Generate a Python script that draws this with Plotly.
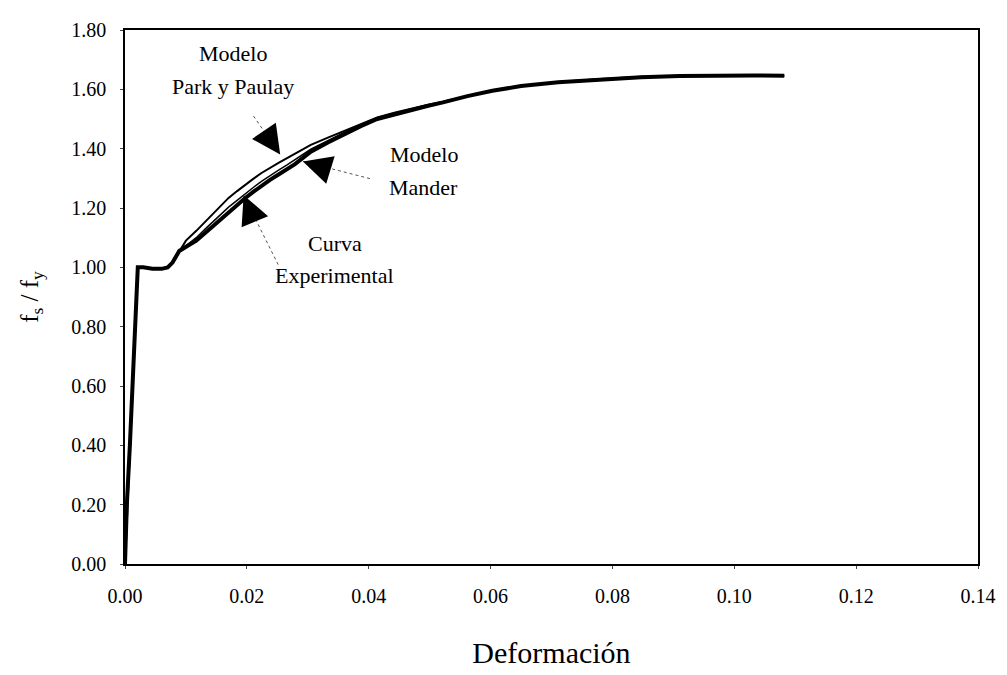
import plotly.graph_objects as go

# Experimental curve
exp_x = [0, 0.0003, 0.0008, 0.0017, 0.0021, 0.0030, 0.0045, 0.0060, 0.0070, 0.0078, 0.0089,
         0.0103, 0.0117, 0.0131, 0.0145, 0.0158, 0.0170, 0.0184, 0.0197, 0.0211, 0.0224,
         0.0238, 0.0252, 0.0266, 0.0279, 0.0292, 0.0305, 0.0333, 0.0360, 0.0387, 0.0414,
         0.0442, 0.0470, 0.0496, 0.0522, 0.0562, 0.0603, 0.0650, 0.0711, 0.0780, 0.0847,
         0.0910, 0.0977, 0.1030, 0.1082]
exp_y = [0, 0.20, 0.40, 0.80, 1.00, 1.00, 0.995, 0.995, 1.00, 1.016, 1.055,
         1.073, 1.090, 1.115, 1.140, 1.164, 1.188, 1.211, 1.233, 1.255, 1.276,
         1.295, 1.313, 1.331, 1.348, 1.369, 1.390, 1.421, 1.450, 1.476, 1.500,
         1.516, 1.531, 1.544, 1.556, 1.577, 1.595, 1.611, 1.624, 1.634, 1.641,
         1.645, 1.647, 1.647, 1.646]

# Modelo Park y Paulay
pp_x = [0, 0.0021, 0.0030, 0.0045, 0.0060, 0.0070, 0.0078, 0.0089, 0.0100, 0.0117, 0.0131,
        0.0145, 0.0158, 0.0170, 0.0184, 0.0197, 0.0211, 0.0224, 0.0238, 0.0252, 0.0266,
        0.0279, 0.0292, 0.0305, 0.0333, 0.0360, 0.0387, 0.0414, 0.0442, 0.0470, 0.0496,
        0.0522, 0.0562, 0.0603, 0.0650, 0.0711, 0.0780, 0.0847, 0.0910, 0.0977, 0.1030,
        0.1082]
pp_y = [0, 1.00, 1.00, 0.995, 0.995, 1.00, 1.016, 1.055, 1.090, 1.123, 1.152,
        1.180, 1.208, 1.234, 1.257, 1.278, 1.299, 1.318, 1.336, 1.352, 1.368,
        1.383, 1.398, 1.413, 1.437, 1.460, 1.483, 1.505, 1.521, 1.535, 1.547,
        1.558, 1.578, 1.597, 1.612, 1.625, 1.635, 1.642, 1.645, 1.647, 1.647,
        1.646]

# Modelo Mander
md_x = [0.0089, 0.0103, 0.0117, 0.0131, 0.0145, 0.0158, 0.0170, 0.0184, 0.0197, 0.0211,
        0.0224, 0.0238, 0.0252, 0.0266, 0.0279, 0.0292, 0.0305, 0.0333, 0.0360, 0.0387,
        0.0414, 0.0442, 0.0470, 0.0496, 0.0522, 0.0562, 0.0603, 0.0650, 0.0711, 0.0780,
        0.0847, 0.0910, 0.0977, 0.1030, 0.1082]
md_y = [1.055, 1.078, 1.100, 1.128, 1.155, 1.180, 1.203, 1.226, 1.248, 1.270,
        1.290, 1.310, 1.328, 1.345, 1.362, 1.380, 1.398, 1.427, 1.455, 1.479,
        1.502, 1.518, 1.532, 1.545, 1.556, 1.577, 1.596, 1.611, 1.624, 1.634,
        1.641, 1.645, 1.647, 1.647, 1.646]

x_ticks = [0.00, 0.02, 0.04, 0.06, 0.08, 0.10, 0.12, 0.14]
y_ticks = [0.00, 0.20, 0.40, 0.60, 0.80, 1.00, 1.20, 1.40, 1.60, 1.80]

FONT = "Liberation Serif"

fig = go.Figure()
fig.add_trace(go.Scatter(x=exp_x, y=exp_y, mode="lines",
                         line=dict(color="black", width=4), hoverinfo="skip"))
fig.add_trace(go.Scatter(x=md_x, y=md_y, mode="lines",
                         line=dict(color="black", width=1.5), hoverinfo="skip"))
fig.add_trace(go.Scatter(x=pp_x, y=pp_y, mode="lines",
                         line=dict(color="black", width=2), hoverinfo="skip"))

# dotted leader lines
leaders = [
    (0.02109, 1.510, 0.02547, 1.380),   # Park y Paulay
    (0.0402, 1.299, 0.0292, 1.357),     # Mander
    (0.02514, 1.009, 0.01947, 1.243),   # Experimental
]
for x0, y0, x1, y1 in leaders:
    fig.add_shape(type="line", x0=x0, y0=y0, x1=x1, y1=y1, xref="x", yref="y",
                  line=dict(color="#555555", width=1, dash="dot"))

# arrow heads (short arrows pointing to tips)
heads = [
    (0.02547, 1.380, -13, -19),
    (0.0292, 1.357, 26, 8),
    (0.01947, 1.243, 11, 26),
]
for x, y, ax, ay in heads:
    fig.add_annotation(x=x, y=y, ax=ax, ay=ay, xref="x", yref="y", text="",
                       showarrow=True, arrowhead=2, arrowsize=4.8, arrowwidth=1.2,
                       arrowcolor="black")

labels = [
    (234, 43, "Modelo"),
    (234, 77, "Park y Paulay"),
    (427, 148, "Modelo"),
    (427, 182, "Mander"),
    (337, 240, "Curva"),
    (337, 273, "Experimental"),
]
L, R, T, B = 125, 988, 19, 572
for px, py, t in labels:
    xd = (px - L) / (R - L) * 0.14
    yd = (B - py) / (B - T) * 1.8
    fig.add_annotation(x=xd, y=yd, xref="x", yref="y", text=t, showarrow=False,
                       font=dict(family=FONT, size=22, color="black"))

# page body has an 8px default margin, so the figure is shifted by 8px
fig.update_layout(
    width=999, height=667,
    margin=dict(l=117, r=19, t=11, b=103),
    paper_bgcolor="white", plot_bgcolor="white",
    showlegend=False,
    font=dict(family=FONT, size=20, color="black"),
    xaxis=dict(range=[0, 0.14], tickvals=x_ticks,
               ticktext=[f"{v:.2f}" for v in x_ticks],
               showgrid=False, zeroline=False, showline=True, linecolor="black",
               linewidth=1.5, mirror=True, ticks="outside", ticklen=3, tickwidth=1,
               ticklabelstandoff=10,
               tickfont=dict(family=FONT, size=20),
               title=dict(text="Deformación", font=dict(family=FONT, size=30), standoff=36)),
    yaxis=dict(range=[0, 1.8], tickvals=y_ticks,
               ticktext=[f"{v:.2f}" for v in y_ticks],
               showgrid=False, zeroline=False, showline=True, linecolor="black",
               linewidth=1.5, mirror=True, ticks="outside", ticklen=3, tickwidth=1,
               ticklabelstandoff=10,
               tickfont=dict(family=FONT, size=20),
               title=dict(text="f<sub>s</sub> / f<sub>y</sub>", font=dict(family=FONT, size=25),
                          standoff=26)),
)

fig.write_html("out.html")
